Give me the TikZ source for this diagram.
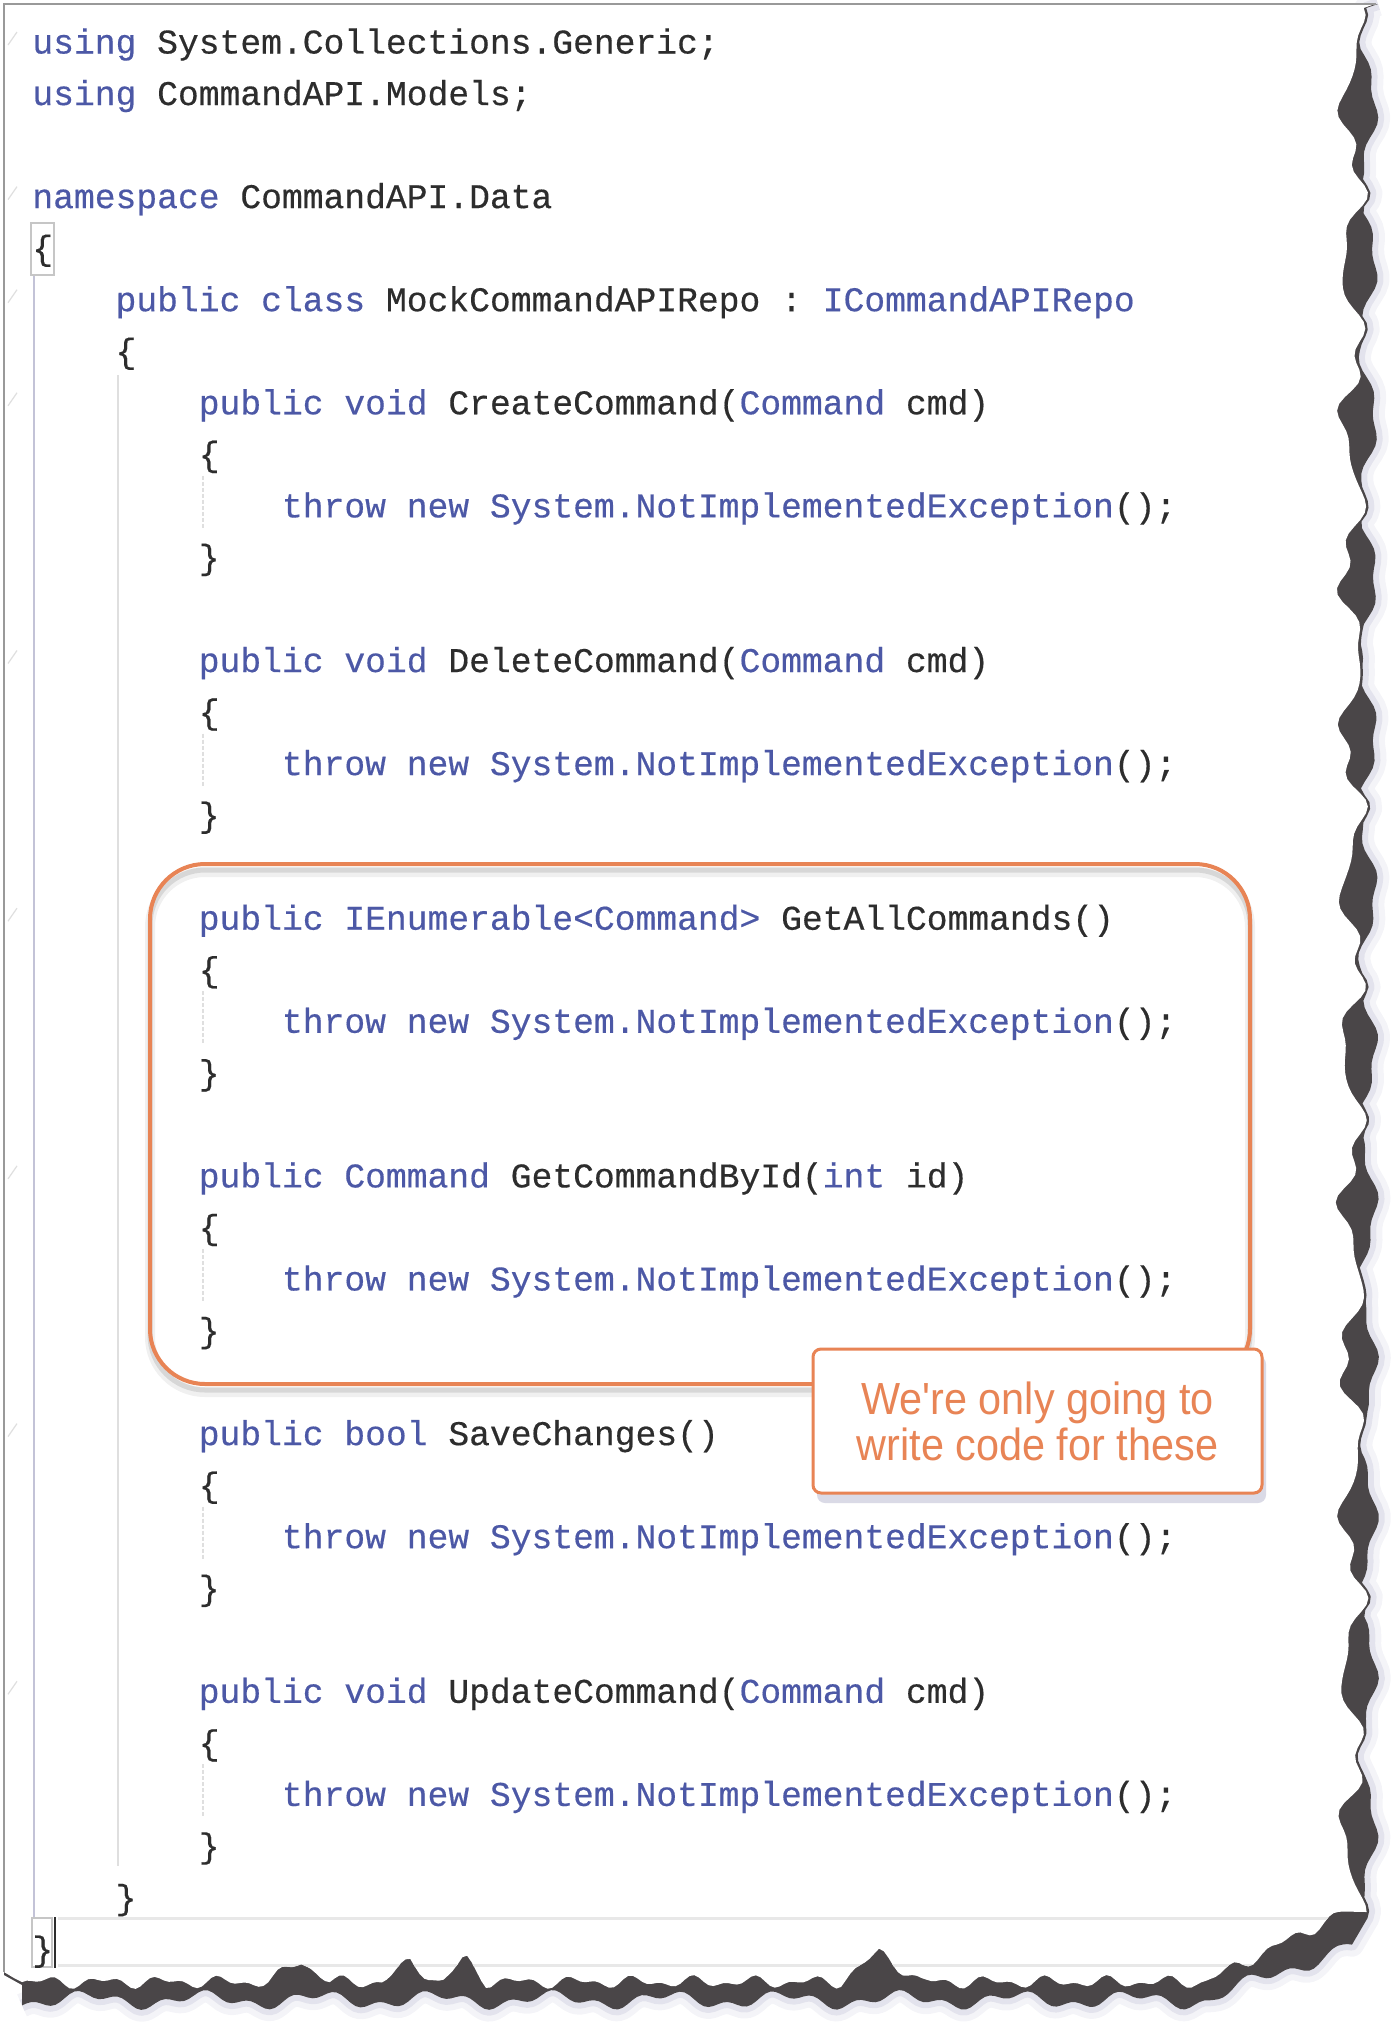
\documentclass[tikz,border=0pt]{standalone}
\usepackage{fontspec}
\newfontfamily\codefont[FakeBold=0.4]{Liberation Mono}
\newfontfamily\notefont[FakeStretch=0.92]{Liberation Sans}
\definecolor{kwblue}{RGB}{76,88,166}
\definecolor{codegray}{RGB}{45,45,45}
\definecolor{noteorange}{RGB}{232,132,85}
\definecolor{tornedge}{RGB}{74,70,72}
\definecolor{halo}{RGB}{150,150,185}
\definecolor{guide}{RGB}{195,195,215}
\newcommand{\kw}[1]{\textcolor{kwblue}{#1}}
\newcommand{\throwit}{\kw{throw new System.NotImplementedException}();}

\begin{document}
\frenchspacing
\begin{tikzpicture}[
		x=0.5pt, y=-0.5pt,
		declare function={
			tearx(\t)=1352+10*sin(2.3*\t+20)+5*sin(5.9*\t)+2*sin(7.7*\t+50);
			outx(\t)=max(1368+8*sin(2.3*\t+200)+3*sin(6.7*\t),tearx(\t)+2.5);
			teary(\t)=1982+4*sin(6.1*\t)+3*sin(11.3*\t)-22*max(0,1-abs(\t-300)/30)
				-20*max(0,1-abs(\t-410)/28)-24*max(0,1-abs(\t-465)/22)
				-30*max(0,1-abs(\t-880)/40)-70*max(0,1-abs(\t-1345)/140);
			outy(\t)=2000+6*sin(3.1*\t)+4*sin(8.3*\t)-55*max(0,1-abs(\t-1350)/140);
		},
		pagepath/.style={insert path={(4,4) -- (1375,4)
			-- plot[domain=8:1912, samples=280] ({tearx(\x)},\x)
			-- plot[domain=1343:22, samples=280] (\x,{teary(\x)})
			-- (14,1978) -- (4,1972) -- cycle}},
		tearpath/.style={insert path={(1378,4)
			-- plot[domain=8:1918, samples=280] ({outx(\x)},\x)
			-- plot[domain=1352:22, samples=280] (\x,{outy(\x)})}},
		code/.style={anchor=base west, inner sep=0pt, text=codegray,
			font=\codefont\fontsize{17.33}{25.77}\selectfont},
		note/.style={draw=noteorange, fill=white, line width=1.5pt,
			rounded corners=4pt, minimum width=224.5pt, minimum height=72pt,
			align=center, text=noteorange, inner sep=0pt,
			font=\notefont\fontsize{22.5}{23}\selectfont},
		foldmark/.style={draw=gray!25, line width=0.6pt},
		guideline/.style={draw=guide, line width=0.75pt},
		matchbox/.style={draw=gray!45, line width=0.7pt}
		]
		\useasboundingbox (0,0) rectangle (1400,2025);
		% torn edge with its shadow
		\draw[halo, opacity=.10, line width=12pt, line join=round, tearpath];
		\draw[halo, opacity=.18, line width=6pt, line join=round, tearpath];
		\fill[tornedge, tearpath] -- (22,1985) -- (4,1975) -- (4,4) -- cycle;
		\fill[white, pagepath];
		\draw[gray!80, line width=1.2pt] (4,1972) -- (4,4) -- (1376,4);

		\begin{scope}
			\clip[pagepath];
			% current line
			\draw[gray!18, line width=1.5pt] (58,1918) -- (1400,1918) (58,1965) -- (1400,1965);
			% indent guides
			\draw[guideline, line width=1pt] (34,275) -- (34,1917);
			\draw[guideline, gray!25] (118,375) -- (118,1866);
			\foreach \k in {465.8, 723.5, 981.2, 1239.0, 1496.7, 1754.4}
				\draw[guideline, gray!25, dash pattern=on 2pt off 1pt] (203,{\k+10}) -- (203,{\k+63});
			% fold marks
			\foreach \c in {1,4,6,8,13,18,23,28,33}
				\draw[foldmark] (8,{45+51.54*(\c-1)}) -- ++(9,-13);
		\end{scope}

		% brace matching and caret
		\draw[matchbox] (31,223) rectangle (54,275);
		\draw[matchbox] (32,1918) rectangle (52,1967);
		\draw[codegray, line width=1.3pt] (55,1917) -- (55,1968);

		% code
		\node[code] (l1) at (32,53.5) {\kw{using} System.Collections.Generic;};
		\node[code] (l2) at (32,105.0) {\kw{using} CommandAPI.Models;};
		\node[code] (l4) at (32,208.1) {\kw{namespace} CommandAPI.Data};
		\node[code] (l5) at (32,259.7) {\{};
		\node[code] (l6) at (115.2,311.2) {\kw{public class} MockCommandAPIRepo : \kw{ICommandAPIRepo}};
		\node[code] (l7) at (115.2,362.7) {\{};
		\node[code] (l8) at (198.4,414.3) {\kw{public void} CreateCommand(\kw{Command} cmd)};
		\node[code] (l13) at (198.4,672.0) {\kw{public void} DeleteCommand(\kw{Command} cmd)};
		\node[code] (l18) at (198.4,929.7) {\kw{public IEnumerable<Command>} GetAllCommands()};
		\node[code] (l23) at (198.4,1187.4) {\kw{public Command} GetCommandById(\kw{int} id)};
		\node[code] (l28) at (198.4,1445.1) {\kw{public bool} SaveChanges()};
		\node[code] (l33) at (198.4,1702.8) {\kw{public void} UpdateCommand(\kw{Command} cmd)};
		\foreach \k [count=\i] in {414.3, 672.0, 929.7, 1187.4, 1445.1, 1702.8} {
			\node[code] (open\i) at (198.4,{\k+51.54}) {\{};
			\node[code] (body\i) at (281.6,{\k+103.08}) {\throwit};
			\node[code] (close\i) at (198.4,{\k+154.62}) {\}};
		}
		\node[code] (l37) at (115.2,1909.0) {\}};
		\node[code] (l38) at (32,1960.6) {\}};

		% highlight and note
		\draw[black, opacity=.06, line width=5pt, rounded corners=27.5pt] (150,872) rectangle (1250,1392);
		\draw[black, opacity=.10, line width=2.5pt, rounded corners=27.5pt] (150,870) rectangle (1250,1390);
		\draw[noteorange, line width=2pt, rounded corners=27.5pt] (150,864) rectangle (1250,1384);
		\fill[halo, opacity=.35, rounded corners=4pt] (817,1356) rectangle (1266,1503);
		\node[note] (note) at (1037.5,1421) {We're only going to\\write code for these};
	\end{tikzpicture}
\end{document}
